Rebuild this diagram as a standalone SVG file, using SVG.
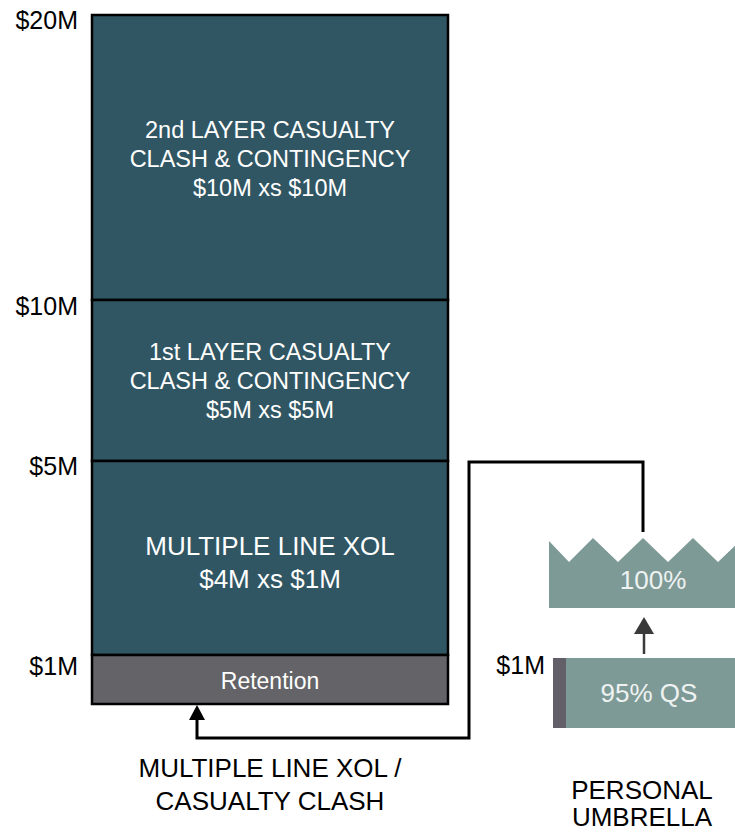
<svg xmlns="http://www.w3.org/2000/svg" width="735" height="832" viewBox="0 0 735 832">
<defs>
<style>
.layer{fill:#305663;stroke:#000;stroke-width:2.5}
.ret{fill:#636368;stroke:#000;stroke-width:2.5}
.umb{fill:#7e9a97}
.wt{font-family:"Liberation Sans",Arial,sans-serif;fill:#ffffff;text-anchor:middle}
.lt{font-family:"Liberation Sans",Arial,sans-serif;fill:#eef2f1;text-anchor:middle;font-size:26px}
.tick{font-family:"Liberation Sans",Arial,sans-serif;fill:#000;text-anchor:end;font-size:25px}
.cap{font-family:"Liberation Sans",Arial,sans-serif;fill:#000;text-anchor:middle;font-size:26px}
.conn{fill:none;stroke:#000;stroke-width:3}
</style>
</defs>

<g id="axis">
<text class="tick" x="78" y="29">$20M</text>
<text class="tick" x="78" y="315">$10M</text>
<text class="tick" x="78" y="475">$5M</text>
<text class="tick" x="78" y="675">$1M</text>
</g>

<g id="layer2">
<rect class="layer" x="92" y="15" width="356" height="285"/>
<text class="wt" font-size="23.5" x="270" y="138">2nd LAYER CASUALTY</text>
<text class="wt" font-size="23.5" x="270" y="167">CLASH &amp; CONTINGENCY</text>
<text class="wt" font-size="23.5" x="270" y="196">$10M xs $10M</text>
</g>

<g id="layer1">
<rect class="layer" x="92" y="300" width="356" height="161"/>
<text class="wt" font-size="23.5" x="270" y="360">1st LAYER CASUALTY</text>
<text class="wt" font-size="23.5" x="270" y="389">CLASH &amp; CONTINGENCY</text>
<text class="wt" font-size="23.5" x="270" y="418">$5M xs $5M</text>
</g>

<g id="mlxol">
<rect class="layer" x="92" y="461" width="356" height="194"/>
<text class="wt" font-size="26" x="270" y="555">MULTIPLE LINE XOL</text>
<text class="wt" font-size="26" x="270" y="588">$4M xs $1M</text>
</g>

<g id="retention">
<rect class="ret" x="92" y="655" width="356" height="49"/>
<text class="wt" font-size="23" x="270" y="689" fill="#f2f2f2">Retention</text>
</g>

<g id="umbrella100">
<path class="umb" d="M549,541 L569,562 L593,538 L618,562 L643,538 L668,562 L693,538 L718,562 L743,538 L743,608 L549,608 Z"/>
<text class="lt" x="653" y="589">100%</text>
</g>

<g id="qs95">
<rect class="umb" x="553" y="658" width="190" height="70"/>
<rect x="553" y="658" width="13" height="70" fill="#635f69"/>
<text class="lt" x="649" y="702">95% QS</text>
<text class="tick" x="545" y="674">$1M</text>
</g>

<g id="labels">
<text class="cap" x="270" y="777">MULTIPLE LINE XOL /</text>
<text class="cap" x="270" y="810">CASUALTY CLASH</text>
<text class="cap" x="642" y="799">PERSONAL</text>
<text class="cap" x="642" y="826">UMBRELLA</text>
</g>

<g id="connectors">
<path class="conn" d="M643,532 L643,462 L469,462 L469,738 L197,738 L197,718"/>
<path d="M189,720 L197,705 L205,720 Z" fill="#000"/>
<line x1="644" y1="654" x2="644" y2="630" stroke="#3a3a3a" stroke-width="2.5"/>
<path d="M634,634 L644,617 L654,634 Z" fill="#3a3a3a"/>
</g>
</svg>
